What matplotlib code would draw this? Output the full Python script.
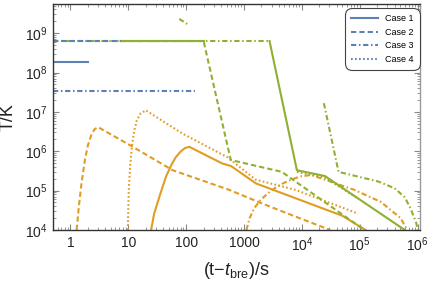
import numpy as np
import matplotlib
matplotlib.use("Agg")
import matplotlib.pyplot as plt
from matplotlib.lines import Line2D
from matplotlib.ticker import LogLocator, NullFormatter

plt.rcParams['font.family'] = ['Liberation Sans', 'DejaVu Sans']
plt.rcParams['mathtext.fontset'] = 'custom'
plt.rcParams['mathtext.rm'] = 'Liberation Sans'
plt.rcParams['mathtext.it'] = 'Liberation Sans:italic'
plt.rcParams['mathtext.default'] = 'regular'
plt.rcParams['lines.scale_dashes'] = False

BLUE = '#5E81B5'
ORANGE = '#E19C24'
GREEN = '#8FB032'

# ---- data ----
case_labels = ["Case 1", "Case 2", "Case 3", "Case 4"]

# blue
b1_t = [0.5, 2.0];   b1_T = [1.86e8, 1.86e8]
b2_t = [0.5, 7.6];   b2_T = [6.3e8, 6.3e8]
b3_t = [0.5, 145];   b3_T = [3.4e7, 3.4e7]

# orange
o1_t = [24.8, 28, 34.5, 45, 56, 66, 80, 95, 113, 420, 600, 1600, 5e4, 1.26e5]
o1_T = [1e4, 2.6e4, 7.0e4, 2.3e5, 4.6e5, 7.0e5, 9.8e5, 1.2e6, 1.3e6, 4.9e5, 4.2e5, 1.53e5, 2.3e4, 1e4]
o2_t = [1.28, 1.4, 1.56, 1.78, 2.0, 2.3, 2.6, 3.0, 10.5, 58.5, 550, 2000, 7700, 3.1e4]
o2_T = [1e4, 4.0e4, 1.6e5, 6.0e5, 1.4e6, 2.6e6, 3.6e6, 4.1e6, 1.45e6, 3.3e5, 1.05e5, 4.8e4, 2.2e4, 1e4]
o3_t = [1100, 1250, 1500, 1900, 2500, 3400, 4600, 6500, 9500, 1.45e4, 8e4, 2.3e5, 5.1e5, 6.6e5]
o3_T = [1e4, 2.0e4, 3.6e4, 5.6e4, 8.2e4, 1.15e5, 1.5e5, 1.9e5, 2.3e5, 2.5e5, 1.05e5, 5.2e4, 2e4, 1e4]
o4_t = [9.8, 10.2, 10.8, 11.6, 12.6, 14.0, 16.0, 20, 87, 520, 1590, 7700, 9.4e4]
o4_T = [1e4, 1.0e5, 4.5e5, 1.4e6, 3.2e6, 6.0e6, 8.8e6, 1.1e7, 2.8e6, 7.0e5, 1.9e5, 1.05e5, 2.6e4]

# green
g1a_t = [7.6, 200];  g1a_T = [6.3e8, 6.3e8]
g1b_t = [2760, 8200, 2.5e4, 6e5]
g1b_T = [6.3e8, 3.3e5, 2.35e5, 1e4]
g2_t = [7.6, 200, 590, 4500, 1.2e5]
g2_T = [6.3e8, 6.3e8, 6e5, 3e5, 1e4]
g3a_t = [0.5, 2760];  g3a_T = [6.3e8, 6.3e8]
g3b_t = [76, 105];    g3b_T = [2.3e9, 1.7e9]
g3c_t = [2.4e4, 4.3e4, 2.1e5, 4e5, 6e5, 7.3e5, 8.5e5, 9.5e5, 1e6]
g3c_T = [1.66e7, 3.0e5, 1.7e5, 1.15e5, 6.8e4, 3.9e4, 2.3e4, 1.5e4, 1e4]
g4_t = [8200, 2.5e4, 9.5e4]
g4_T = [3.0e5, 2.15e5, 6.2e4]

xtick_vals = [1, 10, 100, 1000, 1e4, 1e5, 1e6]
xtick_labels = ["1", "10", "100", "1000", "$10^{4}$", "$10^{5}$", "$10^{6}$"]
ytick_vals = [1e4, 1e5, 1e6, 1e7, 1e8, 1e9]
ytick_labels = ["$10^{4}$", "$10^{5}$", "$10^{6}$", "$10^{7}$", "$10^{8}$", "$10^{9}$"]

# ---- styles ----
LW = 1.5
styles = {
    'solid': dict(linestyle='-'),
    'dashed': dict(dashes=(3.8, 2.2)),
    'dashdot': dict(dashes=(3.8, 1.9, 1.1, 1.9)),
    'dotted': dict(dashes=(1.2, 1.7)),
}

fig = plt.figure(figsize=(4.32, 2.81), dpi=100)
ax = fig.add_axes([53/432, 51/281, 367/432, 226/281])

def draw(t, T, color, style):
    ax.plot(t, T, color=color, lw=LW, **styles[style])

# orange
draw(o1_t, o1_T, ORANGE, 'solid')
draw(o2_t, o2_T, ORANGE, 'dashed')
draw(o3_t, o3_T, ORANGE, 'dashdot')
draw(o4_t, o4_T, ORANGE, 'dotted')
# green
draw(g3a_t, g3a_T, GREEN, 'dashdot')
draw(g3b_t, g3b_T, GREEN, 'dashdot')
draw(g3c_t, g3c_T, GREEN, 'dashdot')
draw(g2_t, g2_T, GREEN, 'dashed')
draw(g4_t, g4_T, GREEN, 'dotted')
draw(g1a_t, g1a_T, GREEN, 'solid')
draw(g1b_t, g1b_T, GREEN, 'solid')
# blue
draw(b1_t, b1_T, BLUE, 'solid')
draw(b2_t, b2_T, BLUE, 'dashed')
draw(b3_t, b3_T, BLUE, 'dashdot')

ax.set_xscale('log')
ax.set_yscale('log')
ax.set_xlim(0.5, 1.1e6)
ax.set_ylim(1e4, 5.5e9)

ax.set_xticks(xtick_vals)
ax.set_xticklabels(xtick_labels)
ax.set_yticks(ytick_vals)
ax.set_yticklabels(ytick_labels)
ax.xaxis.set_minor_locator(LogLocator(base=10, subs=np.arange(2, 10), numticks=20))
ax.yaxis.set_minor_locator(LogLocator(base=10, subs=np.arange(2, 10), numticks=20))
ax.xaxis.set_minor_formatter(NullFormatter())
ax.yaxis.set_minor_formatter(NullFormatter())
ax.tick_params(which='both', direction='in', top=True, right=True, color='#888888',
               labelsize=10, labelcolor='#222222')
ax.tick_params(which='major', length=4, width=0.8, pad=4)
ax.tick_params(which='minor', length=2, width=0.6)

for side in ['left', 'bottom', 'top']:
    ax.spines[side].set_color('#333333')
    ax.spines[side].set_linewidth(1.0)
ax.spines['right'].set_color('#999999')
ax.spines['right'].set_linewidth(1.0)

ax.set_ylabel('T/K', fontsize=13, color='#222222')
ax.yaxis.set_label_coords(-0.098, 0.5)
ax.set_xlabel(r'(t$-$$\mathit{t}_{\rm bre}$)/s', fontsize=13, color='#222222', labelpad=4)

handles = [Line2D([], [], color=BLUE, lw=LW, **styles[s])
           for s in ['solid', 'dashed', 'dashdot', 'dotted']]
leg = ax.legend(handles, case_labels, loc='upper right',
                bbox_to_anchor=(0.995, 0.975), fontsize=6.5, handlelength=3.0,
                handletextpad=0.8, labelspacing=0.5, borderpad=0.5,
                borderaxespad=0.0,
                frameon=True, fancybox=True, framealpha=1, edgecolor='#444444')
leg.get_frame().set_linewidth(0.8)
leg.get_frame().set_boxstyle('round,pad=0.2,rounding_size=0.8')

fig.savefig('out.png', dpi=100)
